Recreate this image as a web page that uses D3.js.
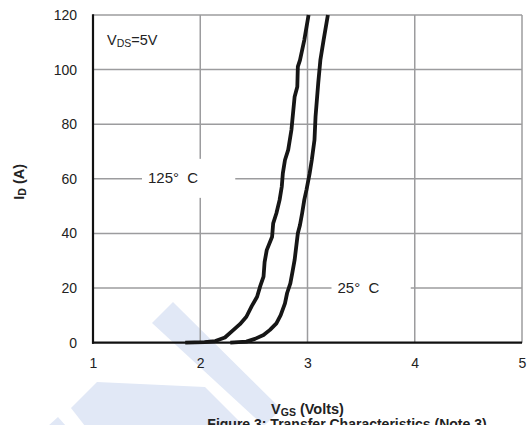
<!DOCTYPE html>
<html>
<head>
<meta charset="utf-8">
<script src="https://cdn.jsdelivr.net/npm/d3@7"></script>
<style>
  html, body { margin: 0; padding: 0; background: #fff; }
  svg { display: block; font-family: "Liberation Sans", Arial, sans-serif; }
  .pre { white-space: pre; }
</style>
</head>
<body>
<svg id="chart" width="529" height="425"></svg>
<script>
// Gate voltage ticks and drain current ticks
const xTicks = [1, 2, 3, 4, 5];
const yTicks = [0, 20, 40, 60, 80, 100, 120];

// Transfer curve at Tj = 125 °C  (VGS in volts, ID in amps)
const vgs125 = [1.86, 2.04, 2.14, 2.23, 2.31, 2.37, 2.43, 2.48, 2.53, 2.56, 2.59, 2.60, 2.62, 2.67, 2.68, 2.71, 2.74, 2.76, 2.77, 2.79, 2.82, 2.85, 2.88, 2.905, 2.91, 2.93, 2.97, 3.01];
const id125  = [0,    0.2,  0.6,  1.9,  4.7,  6.8,  9.5,  13.4, 16.8, 20.8, 24.2, 29.5, 33.9, 38.8, 43.7, 47.4, 52.3, 57.1, 62.0, 66.9, 70.6, 77.9, 90.1, 93.7, 101.1, 103.5, 110.8, 120];

// Transfer curve at Tj = 25 °C
const vgs25 = [2.28, 2.43, 2.51, 2.59, 2.65, 2.71, 2.75, 2.79, 2.81, 2.84, 2.86, 2.88, 2.91, 2.93, 2.95, 2.97, 2.99, 3.02, 3.04, 3.065, 3.075, 3.10, 3.12, 3.15, 3.19];
const id25  = [0,    0.4,  1.4,  2.8,  4.7,  7.1,  10.1, 14.4, 18.2, 21.7, 25.9, 30.3, 40.1, 43.1, 47.4, 52.3, 55.9, 62.0, 66.9, 74.2, 82.8, 95.0, 103.5, 110.8, 120];

const svg = d3.select("#chart");
const W = 529, H = 425;
const m = { left: 93, right: 7, top: 15, bottom: 82.3 };

const x = d3.scaleLinear().domain([1, 5]).range([m.left, W - m.right]);
const y = d3.scaleLinear().domain([0, 120]).range([H - m.bottom, m.top]);

// faint background logo
const wm = svg.append("g").attr("fill", "#e1e8f6");
wm.append("path").attr("d", "M173,302 L281,409 L264,426 L152,323 Z");
wm.append("path").attr("d", "M97,382 L205,387 L244,426 L85,426 L71,408 Z");
wm.append("path").attr("d", "M48,426 L58,417 L66,426 Z");

// grid
const grid = svg.append("g").attr("stroke", "#9c9c9e").attr("stroke-width", 1.5);
grid.selectAll("line.h").data(yTicks.filter(d => d > 0)).join("line")
  .attr("x1", x(1)).attr("x2", x(5))
  .attr("y1", d => y(d)).attr("y2", d => y(d));
grid.selectAll("line.v").data(xTicks.filter(d => d > 1)).join("line")
  .attr("x1", d => x(d)).attr("x2", d => x(d))
  .attr("y1", y(0)).attr("y2", y(120));

// axes (labels only, lines drawn separately)
const xAxis = d3.axisBottom(x).tickValues(xTicks).tickFormat(d3.format("d")).tickSize(0).tickPadding(15);
const gx = svg.append("g").attr("transform", `translate(0,${y(0)})`).call(xAxis);
gx.select(".domain").remove();
gx.selectAll("text").attr("font-size", 14).attr("fill", "#222").attr("font-family", "Liberation Sans, Arial, sans-serif");

const yAxis = d3.axisLeft(y).tickValues(yTicks).tickFormat(d3.format("d")).tickSize(0).tickPadding(16);
const gy = svg.append("g").attr("transform", `translate(${x(1)},0)`).call(yAxis);
gy.select(".domain").remove();
gy.selectAll("text").attr("font-size", 14).attr("fill", "#222").attr("font-family", "Liberation Sans, Arial, sans-serif");

// in-plot labels with white boxes breaking the grid
function tempLabel(x0, x1, yc, tx, text) {
  svg.append("rect").attr("x", x0).attr("y", yc - 20).attr("width", x1 - x0).attr("height", 39).attr("fill", "#fff");
  svg.append("text").attr("class", "pre").attr("x", tx).attr("y", yc + 4.5)
    .attr("font-size", 15).attr("fill", "#222").text(text);
}
tempLabel(x(1) + 49, x(2) + 35, y(60), x(1) + 55, "125°  C");
tempLabel(x(3) + 24, x(4) - 4, y(20), x(3) + 30, "25°  C");

// curves
const line = d3.line().x(d => x(d[0])).y(d => y(d[1]));
const c125 = vgs125.map((v, i) => [v, id125[i]]);
const c25 = vgs25.map((v, i) => [v, id25[i]]);

// axis lines
svg.append("line").attr("x1", x(1)).attr("x2", x(1)).attr("y1", y(0) + 1).attr("y2", y(120) - 0.75)
  .attr("stroke", "#111").attr("stroke-width", 2.2);
svg.append("line").attr("x1", x(1) - 1).attr("x2", x(5)).attr("y1", y(0)).attr("y2", y(0))
  .attr("stroke", "#111").attr("stroke-width", 2.2);

svg.selectAll("path.curve").data([c125, c25]).join("path")
  .attr("class", "curve")
  .attr("d", line)
  .attr("fill", "none").attr("stroke", "#161616").attr("stroke-width", 3.8)
  .attr("stroke-linejoin", "round").attr("stroke-linecap", "butt");

// VDS annotation
const vds = svg.append("text").attr("x", x(1) + 14).attr("y", 44.5).attr("font-size", 14.5).attr("fill", "#222");
vds.append("tspan").text("V");
vds.append("tspan").attr("font-size", 10.5).attr("dy", 2).text("DS");
vds.append("tspan").attr("dy", -2).text("=5V");

// axis titles
const yt = svg.append("text").attr("transform", `translate(24,${y(60) + 3}) rotate(-90)`)
  .attr("text-anchor", "middle").attr("font-weight", "bold").attr("font-size", 14.5).attr("fill", "#222");
yt.append("tspan").text("I");
yt.append("tspan").attr("font-size", 10.5).attr("dy", 2).text("D");
yt.append("tspan").attr("dy", -2).text(" (A)");

const xt = svg.append("text").attr("x", (x(1) + x(5)) / 2).attr("y", 414)
  .attr("text-anchor", "middle").attr("font-weight", "bold").attr("font-size", 14.5).attr("fill", "#222");
xt.append("tspan").text("V");
xt.append("tspan").attr("font-size", 10.5).attr("dy", 2).text("GS");
xt.append("tspan").attr("dy", -2).text(" (Volts)");

svg.append("text").attr("x", 347).attr("y", 428.5).attr("text-anchor", "middle")
  .attr("font-weight", "bold").attr("font-size", 14).attr("fill", "#222")
  .text("Figure 3: Transfer Characteristics (Note 3)");
</script>
</body>
</html>
